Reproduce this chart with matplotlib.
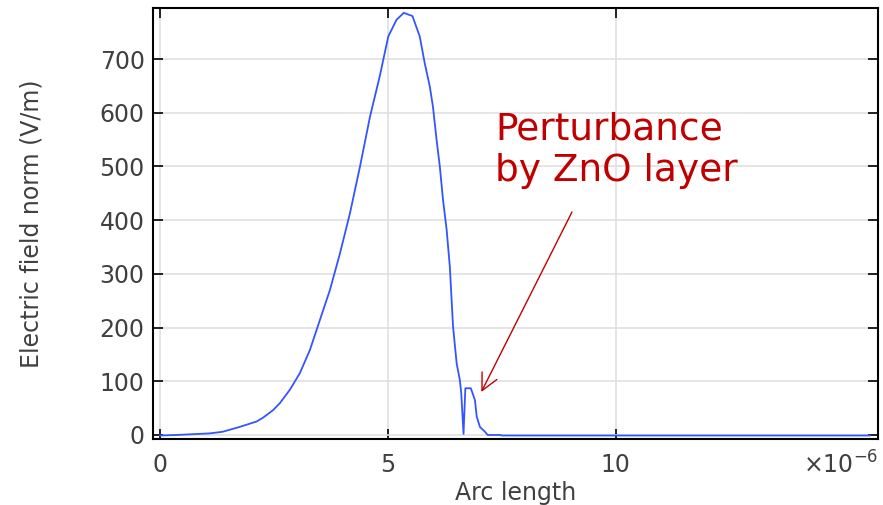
import matplotlib
matplotlib.use("Agg")
import matplotlib.pyplot as plt
import numpy as np

# Arc length (units of 1e-6 m) and electric field norm (V/m)
arc_length = [0.0, 0.37, 1.10, 1.38, 1.75, 2.12, 2.26, 2.48, 2.63, 2.85, 3.07, 3.29,
              3.51, 3.73, 3.95, 4.17, 4.39, 4.61, 4.82, 5.01, 5.19, 5.35, 5.54,
              5.70, 5.81, 5.92, 5.99, 6.07, 6.14, 6.21, 6.29, 6.36, 6.43, 6.51,
              6.58, 6.61, 6.66, 6.70, 6.82, 6.91, 6.95, 7.02, 7.13, 7.19, 7.46,
              7.50, 15.57]
field_norm = [-1, 0, 3, 6, 15, 25, 32, 46, 59, 84, 115, 158,
              214, 270, 338, 413, 500, 593, 667, 742, 773, 786, 780,
              742, 692, 649, 611, 549, 500, 438, 382, 313, 202, 133,
              102, 78, 2, 87, 87, 65, 34, 15, 6, 0, 0,
              -1, -1]

x_ticks = [0, 5, 10]
y_ticks = [0, 100, 200, 300, 400, 500, 600, 700]

fig = plt.figure(figsize=(8.83, 5.05), dpi=100)
ax = fig.add_axes([153/883, 1-439/505, (878-153)/883, (439-8)/505])

ax.plot(arc_length, field_norm, color='#3355FF', lw=1.3)

ax.set_xlim(-0.15, 15.75)
ax.set_ylim(-7.5, 795)
ax.set_xticks(x_ticks)
ax.set_yticks(y_ticks)
ax.grid(True, color='#e0e0e0', lw=1.2)
ax.set_axisbelow(True)
for s in ax.spines.values():
    s.set_linewidth(1.5)
    s.set_color('black')
ax.tick_params(direction='in', length=7, width=1.2, top=True, right=True,
               labelsize=17, labelcolor='#404040')
ax.tick_params(axis='y', pad=6)
ax.tick_params(axis='x', pad=10)

ax.set_xlabel('Arc length', fontsize=17, color='#404040')
ax.set_ylabel('Electric field norm (V/m)', fontsize=17, color='#404040')
ax.xaxis.set_label_coords(0.5, (439-481)/431)
ax.yaxis.set_label_coords((44-153)/725, 0.5)

fig.text(878/883, 1-465/505, r'$\times\mathregular{10^{-6}}$', ha='right', va='center',
         fontsize=17, color='#404040')

ax.annotate('Perturbance\nby ZnO layer', xy=(7.05, 80), xycoords='data',
            xytext=(495, 505-111), textcoords='figure pixels',
            fontsize=27, color='#C00000', ha='left', va='top', linespacing=1.2)
ax.annotate('', xy=(7.05, 80), xycoords='data',
            xytext=(572, 505-212), textcoords='figure pixels',
            arrowprops=dict(arrowstyle='->', color='#C00000', lw=1.0,
                            mutation_scale=30, shrinkA=0, shrinkB=0))

fig.savefig('out.png', dpi=100)
